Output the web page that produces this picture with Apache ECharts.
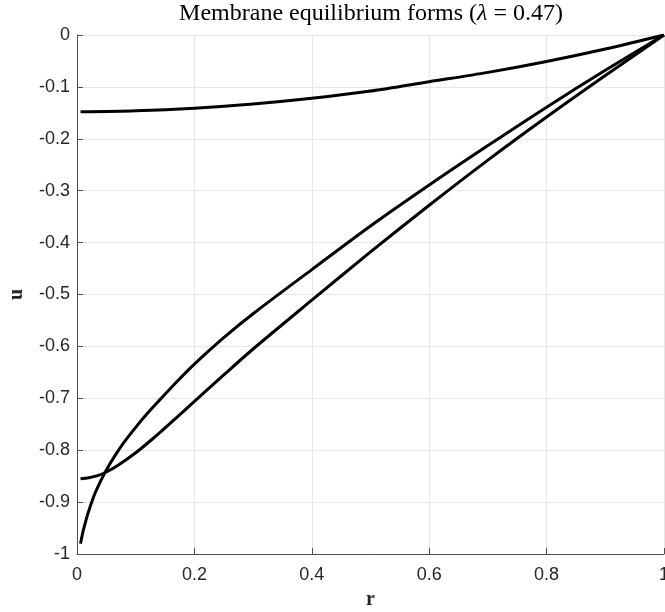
<!DOCTYPE html>
<html>
<head>
<meta charset="utf-8">
<script src="https://cdn.jsdelivr.net/npm/echarts@6/dist/echarts.min.js"></script>
<style>
  html, body { margin: 0; padding: 0; background: #fff; }
  #chart { width: 665px; height: 612px; }
</style>
</head>
<body>
<div id="chart"></div>
<script>
// Radial coordinate r and deflection u for the three equilibrium branches.
const shallowR = [0.006, 0.1, 0.2, 0.3, 0.4, 0.5, 0.6, 0.7, 0.8, 0.9, 1.0];
const shallowU = [-0.148, -0.146, -0.141, -0.133, -0.122, -0.108, -0.090, -0.072, -0.051, -0.027, 0];

const flatStartR = [0.006, 0.02, 0.035, 0.05, 0.07, 0.1, 0.13, 0.16, 0.2, 0.25, 0.3, 0.4, 0.5, 0.6, 0.7, 0.8, 0.9, 1.0];
const flatStartU = [-0.855, -0.853, -0.849, -0.842, -0.829, -0.805, -0.777, -0.747, -0.706, -0.655, -0.605, -0.511, -0.418, -0.328, -0.241, -0.158, -0.078, 0];

const steepStartR = [0.006, 0.01, 0.015, 0.02, 0.03, 0.04, 0.05, 0.065, 0.08, 0.1, 0.12, 0.141, 0.17, 0.2, 0.25, 0.3, 0.4, 0.5, 0.6, 0.7, 0.8, 0.9, 1.0];
const steepStartU = [-0.980, -0.958, -0.936, -0.917, -0.885, -0.860, -0.838, -0.810, -0.785, -0.756, -0.729, -0.703, -0.668, -0.634, -0.583, -0.537, -0.452, -0.368, -0.289, -0.213, -0.139, -0.068, 0];

const xTicks = { min: 0, max: 1, step: 0.2 };
const yTicks = { min: -1, max: 0, step: 0.1 };

const pairs = (xs, ys) => xs.map((x, i) => [x, ys[i]]);

const tickFont = { fontFamily: 'Liberation Sans, Arial, sans-serif', fontSize: 18, color: '#262626' };
const serif = 'Liberation Serif, DejaVu Serif, serif';

const branch = (name, xs, ys) => ({
  name,
  type: 'line',
  data: pairs(xs, ys),
  showSymbol: false,
  smooth: 0.3,
  lineStyle: { color: '#000', width: 3 },
  itemStyle: { color: '#000' },
  silent: true
});

const chart = echarts.init(document.getElementById('chart'), null, { renderer: 'canvas' });
chart.setOption({
  animation: false,
  backgroundColor: '#fff',
  title: {
    text: '{n|Membrane equilibrium forms (}{l|λ}{n| = 0.47)}',
    left: 371,
    top: 2,
    padding: 0,
    textAlign: 'center',
    textStyle: {
      fontWeight: 'normal',
      rich: {
        n: { fontFamily: serif, fontSize: 24, fontWeight: 'normal', color: '#000' },
        l: { fontFamily: serif, fontSize: 24, fontWeight: 'normal', fontStyle: 'italic', color: '#000' }
      }
    }
  },
  grid: { left: 77, right: 1, top: 35, bottom: 58, containLabel: false, outerBoundsMode: 'none' },
  xAxis: {
    type: 'value',
    min: xTicks.min, max: xTicks.max, interval: xTicks.step,
    name: 'r',
    nameLocation: 'middle',
    nameGap: 36,
    nameTextStyle: { fontFamily: serif, fontSize: 20, color: '#262626', fontWeight: 'bold' },
    axisLine: { show: true, onZero: false, lineStyle: { color: '#4d4d4d', width: 1 } },
    axisTick: { show: true, inside: true, length: 6, lineStyle: { color: '#4d4d4d' } },
    axisLabel: Object.assign({ margin: 12, hideOverlap: false }, tickFont),
    splitLine: { show: true, lineStyle: { color: '#e6e6e6', width: 1 } }
  },
  yAxis: {
    type: 'value',
    min: yTicks.min, max: yTicks.max, interval: yTicks.step,
    name: 'u',
    nameLocation: 'middle',
    nameGap: 50,
    nameRotate: 90,
    nameTextStyle: { fontFamily: serif, fontSize: 20, color: '#262626', fontWeight: 'bold' },
    axisLine: { show: true, onZero: false, lineStyle: { color: '#4d4d4d', width: 1 } },
    axisTick: { show: true, inside: true, length: 6, lineStyle: { color: '#4d4d4d' } },
    axisLabel: Object.assign({ margin: 7 }, tickFont),
    splitLine: { show: true, lineStyle: { color: '#e6e6e6', width: 1 } }
  },
  series: [
    branch('shallow', shallowR, shallowU),
    branch('flat start', flatStartR, flatStartU),
    branch('steep start', steepStartR, steepStartU)
  ]
});
</script>
</body>
</html>
